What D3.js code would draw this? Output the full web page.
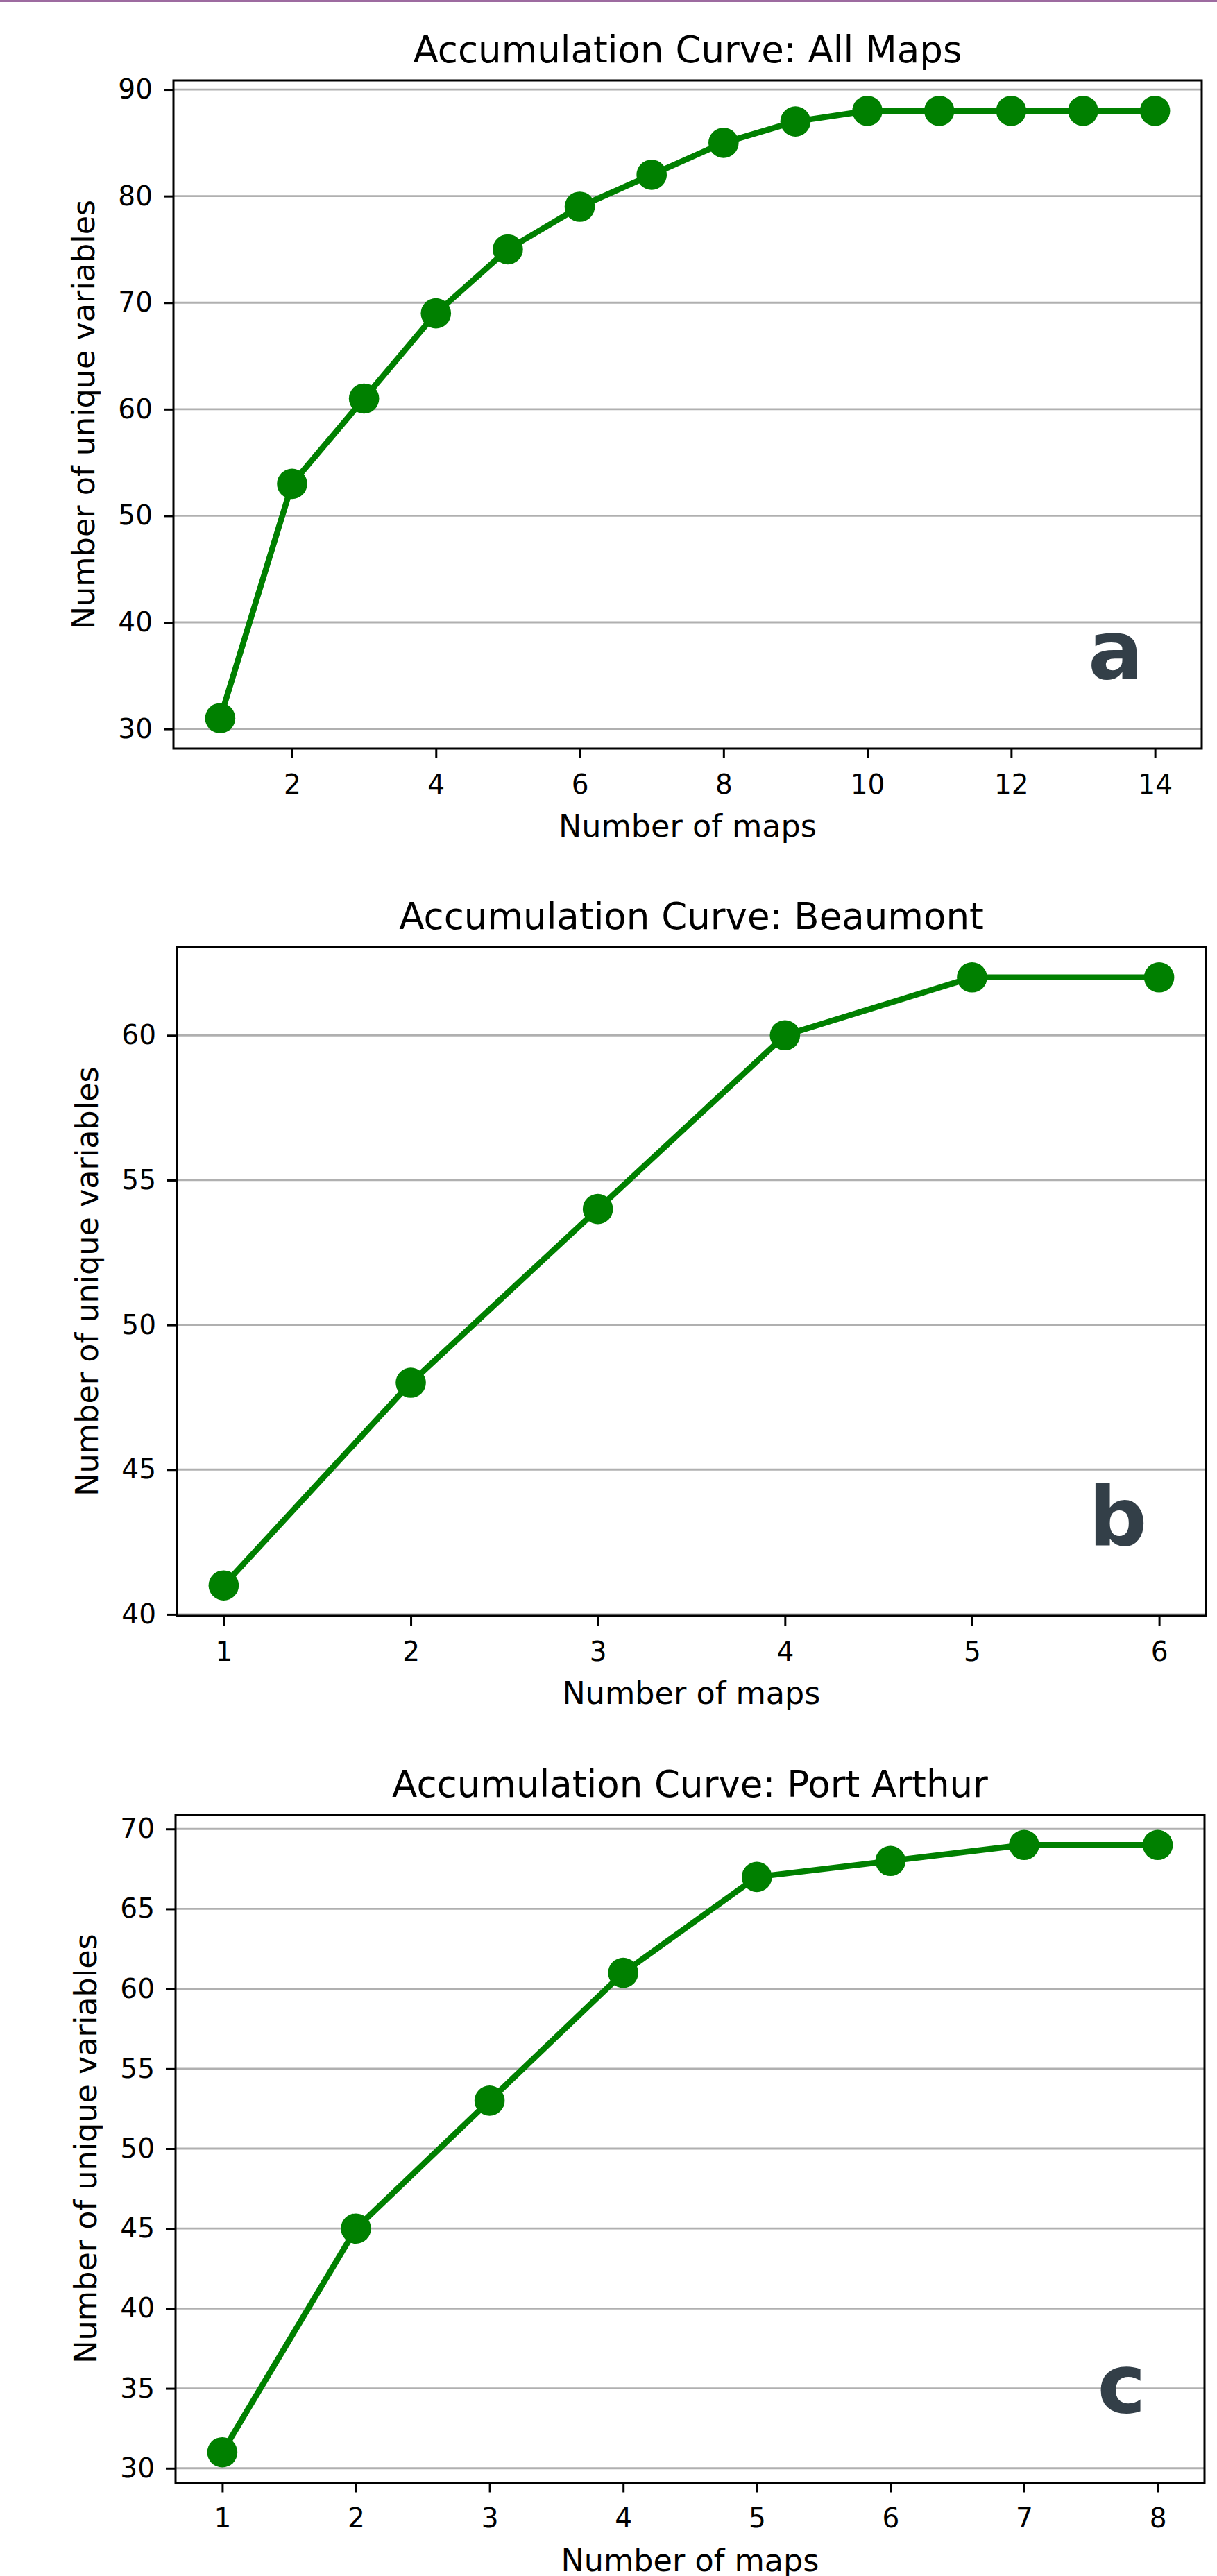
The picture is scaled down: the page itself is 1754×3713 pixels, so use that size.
<!DOCTYPE html>
<html>
<head>
<meta charset="utf-8">
<script src="https://cdn.jsdelivr.net/npm/d3@7"></script>
<style>
  html, body { margin: 0; padding: 0; background: #ffffff; }
  svg { display: block; }
  text { font-family: "DejaVu Sans", sans-serif; }
</style>
</head>
<body>
<script>
// ---- Data ----
const titles = ["Accumulation Curve: All Maps", "Accumulation Curve: Beaumont", "Accumulation Curve: Port Arthur"];
const panelLetters = ["a", "b", "c"];
const xLabel = "Number of maps";
const yLabel = "Number of unique variables";

const mapsAll = [1, 2, 3, 4, 5, 6, 7, 8, 9, 10, 11, 12, 13, 14];
const varsAll = [31, 53, 61, 69, 75, 79, 82, 85, 87, 88, 88, 88, 88, 88];

const mapsBeaumont = [1, 2, 3, 4, 5, 6];
const varsBeaumont = [41, 48, 54, 60, 62, 62];

const mapsPortArthur = [1, 2, 3, 4, 5, 6, 7, 8];
const varsPortArthur = [31, 45, 53, 61, 67, 68, 69, 69];

const xTicksAll = [2, 4, 6, 8, 10, 12, 14];
const yTicksAll = [30, 40, 50, 60, 70, 80, 90];
const xTicksBeaumont = [1, 2, 3, 4, 5, 6];
const yTicksBeaumont = [40, 45, 50, 55, 60];
const xTicksPortArthur = [1, 2, 3, 4, 5, 6, 7, 8];
const yTicksPortArthur = [30, 35, 40, 45, 50, 55, 60, 65, 70];

// ---- Layout ----
const W = 1754, H = 3713;
const panels = [
  { x: mapsAll, y: varsAll, xt: xTicksAll, yt: yTicksAll, box: [250, 116, 1732, 1079] },
  { x: mapsBeaumont, y: varsBeaumont, xt: xTicksBeaumont, yt: yTicksBeaumont, box: [255, 1365, 1738, 2329] },
  { x: mapsPortArthur, y: varsPortArthur, xt: xTicksPortArthur, yt: yTicksPortArthur, box: [253, 2615.5, 1736, 3578.5] }
];

const GREEN = "#008000";
const svg = d3.select("body").append("svg").attr("width", W).attr("height", H);
svg.append("rect").attr("width", W).attr("height", H).attr("fill", "#ffffff");
svg.append("rect").attr("x", 0).attr("y", 0).attr("width", W).attr("height", 3).attr("fill", "#9d6ba0");

function pad(ext) {
  const m = (ext[1] - ext[0]) * 0.05;
  return [ext[0] - m, ext[1] + m];
}

panels.forEach((p, i) => {
  const [x0, y0, x1, y1] = p.box;
  const w = x1 - x0, h = y1 - y0;
  const xs = d3.scaleLinear().domain(pad(d3.extent(p.x))).range([x0, x1]);
  const ys = d3.scaleLinear().domain(pad(d3.extent(p.y))).range([y1, y0]);
  const g = svg.append("g");

  // grid
  g.append("g").selectAll("line").data(p.yt).join("line")
    .attr("x1", x0).attr("x2", x1)
    .attr("y1", d => ys(d)).attr("y2", d => ys(d))
    .attr("stroke", "#b0b0b0").attr("stroke-width", 2.8);

  // line
  const pts = p.x.map((v, k) => [v, p.y[k]]);
  g.append("path").datum(pts)
    .attr("d", d3.line().x(d => xs(d[0])).y(d => ys(d[1])))
    .attr("fill", "none").attr("stroke", GREEN).attr("stroke-width", 8.5)
    .attr("stroke-linejoin", "round").attr("stroke-linecap", "square");
  g.append("g").selectAll("circle").data(pts).join("circle")
    .attr("cx", d => xs(d[0])).attr("cy", d => ys(d[1])).attr("r", 21.8)
    .attr("fill", GREEN);

  // axes
  const xa = g.append("g").attr("transform", `translate(0,${y1})`)
    .call(d3.axisBottom(xs).tickValues(p.xt).tickSize(14).tickPadding(23).tickFormat(d3.format("d")));
  const ya = g.append("g").attr("transform", `translate(${x0},0)`)
    .call(d3.axisLeft(ys).tickValues(p.yt).tickSize(14).tickPadding(16).tickFormat(d3.format("d")));
  [xa, ya].forEach(a => {
    a.select(".domain").remove();
    a.selectAll(".tick line").attr("stroke", "#000").attr("stroke-width", 3);
    a.selectAll(".tick text").attr("fill", "#000").style("font-size", "39px")
      .style("font-family", "'DejaVu Sans', sans-serif");
  });

  // spines
  g.append("rect").attr("x", x0).attr("y", y0).attr("width", w).attr("height", h)
    .attr("fill", "none").attr("stroke", "#000").attr("stroke-width", 3);

  // title
  g.append("text").attr("x", (x0 + x1) / 2).attr("y", y0 - 26)
    .attr("text-anchor", "middle").style("font-size", "53px").attr("fill", "#000")
    .text(titles[i]);

  // x label
  g.append("text").attr("x", (x0 + x1) / 2).attr("y", y1 + 127)
    .attr("text-anchor", "middle").style("font-size", "44.5px").attr("fill", "#000")
    .text(xLabel);

  // y label
  g.append("text")
    .attr("transform", `translate(${x0 - 114},${(y0 + y1) / 2}) rotate(-90)`)
    .attr("text-anchor", "middle").style("font-size", "44.5px").attr("fill", "#000")
    .text(yLabel);

  // panel letter
  g.append("text").attr("x", x0 + 0.943 * w).attr("y", y1 - 0.105 * h)
    .attr("text-anchor", "end").style("font-size", "118px").style("font-weight", "bold")
    .attr("fill", "#333f48")
    .text(panelLetters[i]);
});
</script>
</body>
</html>
